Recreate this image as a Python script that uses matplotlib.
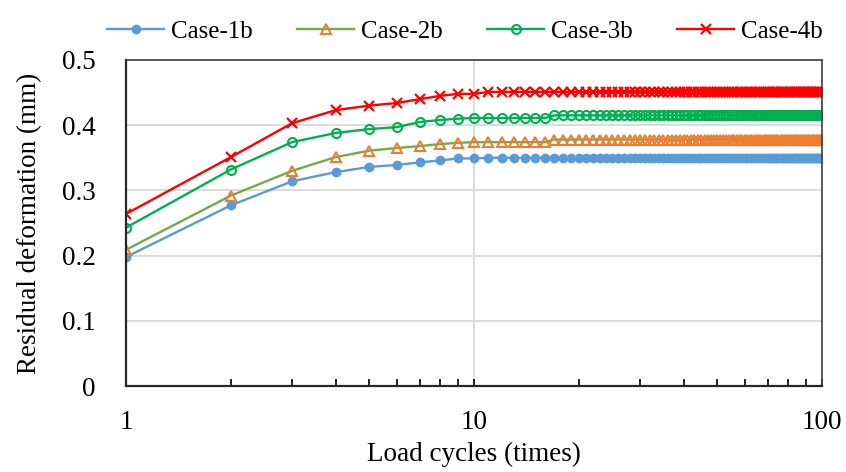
import matplotlib
matplotlib.use("Agg")
import matplotlib.pyplot as plt
from matplotlib.ticker import FixedLocator, NullFormatter

plt.rcParams['font.family'] = ['Liberation Serif', 'DejaVu Serif']

# load cycles 1..100
cycles = list(range(1, 101))

# residual deformation (mm)
case_1b = [0.198, 0.277, 0.314, 0.328, 0.336, 0.339, 0.343, 0.346, 0.349, 0.349] + [0.350] * 90
case_2b = [0.209, 0.292, 0.330, 0.351, 0.361, 0.365, 0.368, 0.371, 0.373, 0.374,
           0.374, 0.374, 0.374, 0.374, 0.374, 0.374] + [0.378] * 84
case_3b = [0.243, 0.332, 0.374, 0.388, 0.394, 0.397, 0.405, 0.408, 0.410, 0.411,
           0.411, 0.411, 0.411, 0.411, 0.411, 0.411] + [0.415] * 84
case_4b = [0.264, 0.351, 0.403, 0.423, 0.430, 0.434, 0.440, 0.445, 0.448, 0.448] + [0.451] * 90

labels = ['Case-1b', 'Case-2b', 'Case-3b', 'Case-4b']

fig = plt.figure(figsize=(8.46, 4.72), dpi=100)
ax = fig.add_axes([0.149, 0.182, 0.8226, 0.691])

ax.plot(cycles, case_1b, color='#5B9BD5', lw=1.7, marker='o', ms=6,
        mfc='#5B9BD5', mec='#5B9BD5', label=labels[0])
ax.plot(cycles, case_2b, color='#70AD47', lw=1.7, marker='^', ms=7,
        mfc='none', mec='#ED7D31', mew=1.5, label=labels[1])
ax.plot(cycles, case_3b, color='#00B050', lw=1.7, marker='o', ms=6.5,
        mfc='none', mec='#00B050', mew=1.5, label=labels[2])
ax.plot(cycles, case_4b, color='#FF0000', lw=1.7, marker='x', ms=7.5,
        mec='#FF0000', mew=1.6, label=labels[3])

ax.set_xscale('log')
ax.set_xlim(1, 100)
ax.set_ylim(0, 0.5)
ax.set_yticks([0, 0.1, 0.2, 0.3, 0.4, 0.5])
ax.set_yticklabels(['0', '0.1', '0.2', '0.3', '0.4', '0.5'])
ax.xaxis.set_major_locator(FixedLocator([1, 10, 100]))
ax.set_xticklabels(['1', '10', '100'])
ax.xaxis.set_minor_locator(FixedLocator([2, 3, 4, 5, 6, 7, 8, 9, 20, 30, 40, 50, 60, 70, 80, 90]))
ax.xaxis.set_minor_formatter(NullFormatter())

ax.grid(True, which='major', color='#D9D9D9', lw=1.3)
ax.set_axisbelow(True)
ax.tick_params(axis='x', which='both', direction='in', length=5, width=1.2,
               labelsize=19.5, pad=17)
ax.tick_params(axis='y', which='both', length=0, labelsize=19.5, pad=22)

for side in ['left', 'bottom']:
    ax.spines[side].set_color('#262626')
    ax.spines[side].set_linewidth(1.6)
for side in ['top', 'right']:
    ax.spines[side].set_color('#404040')
    ax.spines[side].set_linewidth(1.2)

ax.set_xlabel('Load cycles (times)', fontsize=19.5, labelpad=5)
ax.set_ylabel('Residual deformation (mm)', fontsize=19.5, labelpad=14)

fig.legend(loc='upper center', bbox_to_anchor=(0.5497, 1.005), ncol=4, frameon=False,
           fontsize=18, handlelength=2.3, columnspacing=1.75, handletextpad=0.28)

fig.savefig('out.png', dpi=100)
